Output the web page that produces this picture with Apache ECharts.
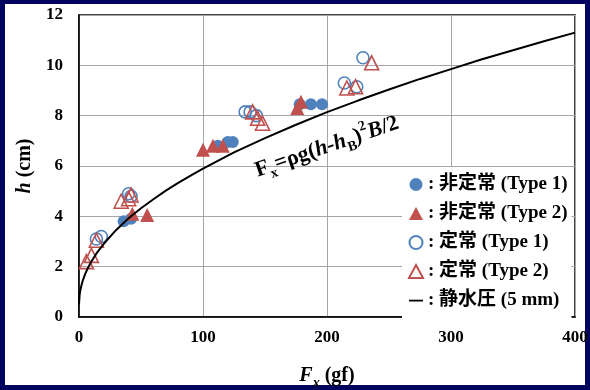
<!DOCTYPE html>
<html><head><meta charset="utf-8">
<script src="https://cdn.jsdelivr.net/npm/echarts@6/dist/echarts.min.js"></script>
<style>
html,body{margin:0;padding:0;background:#02025f;width:590px;height:390px;overflow:hidden;}
#c{position:absolute;left:0;top:0;width:590px;height:390px;}
</style></head>
<body><div id="c"></div>
<script>
// Data
const unsteadyType1 = [[36,3.8],[42,3.9],[112,6.8],[120,6.95],[124,6.95],[178,8.45],[187,8.45],[196,8.45]];
const unsteadyType2 = [[43,4.1],[55,4.05],[100,6.65],[108,6.8],[116,6.8],[176,8.3],[179,8.55]];
const steadyType1 = [[14,3.1],[18,3.2],[40,4.9],[42,4.8],[134,8.15],[138,8.15],[143,8.0],[214,9.3],[224,9.15],[229,10.3]];
const steadyType2 = [[6,2.2],[10,2.45],[14,3.05],[34,4.6],[40,4.7],[42,4.85],[140,8.15],[144,7.9],[148,7.7],[216,9.1],[223,9.15],[236,10.1]];
const hydroF = [0,0.5,1,2,3,5,7,10,15,20,30,40,50,60,70,80,90,100,125,150,175,200,225,250,275,300,325,350,375,400];
const hydroH = [0.5,0.88,1.04,1.26,1.44,1.71,1.93,2.21,2.59,2.91,3.46,3.92,4.32,4.68,5.02,5.33,5.62,5.9,6.54,7.11,7.64,8.14,8.6,9.04,9.46,9.85,10.24,10.6,10.96,11.3];
const seriesNames = [': 非定常 (Type 1)', ': 非定常 (Type 2)', ': 定常 (Type 1)', ': 定常 (Type 2)', ': 静水圧 (5 mm)'];

const BLUE = '#4F81BD', RED = '#C0504D', NAVY = '#02025f';
const SERIF = '"Liberation Serif", "Times New Roman", serif';
const MIX = '"Liberation Serif", "Noto Sans CJK JP", serif';

const chart = echarts.init(document.getElementById('c'), null, {renderer:'canvas'});
const labelStyle = {fontFamily: SERIF, fontWeight: 'bold', fontSize: 17, color: '#000'};
const nameRich = {
  i: {fontFamily: SERIF, fontWeight: 'bold', fontStyle: 'italic', fontSize: 20, color: '#000', lineHeight: 28},
  s: {fontFamily: SERIF, fontWeight: 'bold', fontStyle: 'italic', fontSize: 14, color: '#000', lineHeight: 14, verticalAlign: 'bottom'},
  n: {fontFamily: SERIF, fontWeight: 'bold', fontSize: 20, color: '#000', lineHeight: 28}
};
const annRich = {
  n: {fontFamily: SERIF, fontWeight: 'bold', fontSize: 22, color: '#000', lineHeight: 30},
  i: {fontFamily: SERIF, fontWeight: 'bold', fontStyle: 'italic', fontSize: 22, color: '#000', lineHeight: 30},
  s: {fontFamily: SERIF, fontWeight: 'bold', fontSize: 14, color: '#000', lineHeight: 14, verticalAlign: 'bottom'},
  p: {fontFamily: SERIF, fontWeight: 'bold', fontSize: 14, color: '#000', lineHeight: 16, verticalAlign: 'top'}
};
const lineIcon = 'path://M0,0 L0,0 M0,5.7 L14,5.7 L14,7.5 L0,7.5 Z M14,13 L14,13';

chart.setOption({
  animation: false,
  backgroundColor: NAVY,
  grid: {left: 79, top: 15, right: 15, bottom: 73, show: true, borderColor: '#000', borderWidth: 1.5,
         containLabel: false, outerBoundsMode: 'none'},
  xAxis: {
    type: 'value', min: 0, max: 400, interval: 100,
    axisLine: {show: true, onZero: false, lineStyle: {color: '#000', width: 1.5}},
    axisTick: {show: false},
    axisLabel: Object.assign({margin: 12}, labelStyle),
    splitLine: {show: true, lineStyle: {color: '#a6a6a6', width: 1}},
    name: '{i|F}{s|x}{n| (gf)}', nameLocation: 'middle', nameGap: 45,
    nameTextStyle: {rich: nameRich}
  },
  yAxis: {
    type: 'value', min: 0, max: 12, interval: 2,
    axisLine: {show: true, onZero: false, lineStyle: {color: '#000', width: 1.5}},
    axisTick: {show: false},
    axisLabel: Object.assign({margin: 16}, labelStyle),
    splitLine: {show: true, lineStyle: {color: '#a6a6a6', width: 1}},
    name: '{i|h}{n| (cm)}', nameLocation: 'middle', nameGap: 39,
    nameTextStyle: {rich: nameRich}
  },
  legend: {
    orient: 'vertical', left: 402, top: 167, padding: [8, 4, 8, 6],
    backgroundColor: '#fff', itemGap: 10, itemWidth: 14, itemHeight: 13,
    textStyle: {fontFamily: MIX, fontWeight: 'bold', fontSize: 19, color: '#000'},
    data: [seriesNames[0], seriesNames[1], seriesNames[2], seriesNames[3],
      {name: seriesNames[4], icon: lineIcon, itemStyle: {color: '#000', borderWidth: 0}}]
  },
  series: [
    {name: seriesNames[0], type: 'scatter', data: unsteadyType1, symbol: 'circle', symbolSize: 12,
     itemStyle: {color: BLUE, opacity: 1}},
    {name: seriesNames[1], type: 'scatter', data: unsteadyType2, symbol: 'triangle', symbolSize: 14,
     itemStyle: {color: RED, opacity: 1}},
    {name: seriesNames[2], type: 'scatter', data: steadyType1, symbol: 'circle', symbolSize: 12,
     itemStyle: {color: 'rgba(255,255,255,0)', borderColor: BLUE, borderWidth: 1.6, opacity: 1}},
    {name: seriesNames[3], type: 'scatter', data: steadyType2, symbol: 'triangle', symbolSize: 14,
     itemStyle: {color: 'rgba(255,255,255,0)', borderColor: RED, borderWidth: 1.6, opacity: 1}},
    {name: seriesNames[4], type: 'line', data: hydroF.map((f, k) => [f, hydroH[k]]),
     symbol: 'none', smooth: false,
     lineStyle: {color: '#000', width: 2}, itemStyle: {color: '#000'}, z: 3}
  ],
  graphic: [
    {type: 'rect', z: -100, silent: true, shape: {x: 5, y: 4, width: 580, height: 381}, style: {fill: '#fff'}},
    {type: 'text', x: 327, y: 147, rotation: 0.33, z: 100,
     style: {
       text: '{n|F}{s|x}{n|=ρg(}{i|h}{n|-}{i|h}{s|B}{n|)}{p|2}{i|B}{n|/2}',
       rich: annRich, align: 'center', verticalAlign: 'middle'
     }}
  ]
});
</script></body></html>
